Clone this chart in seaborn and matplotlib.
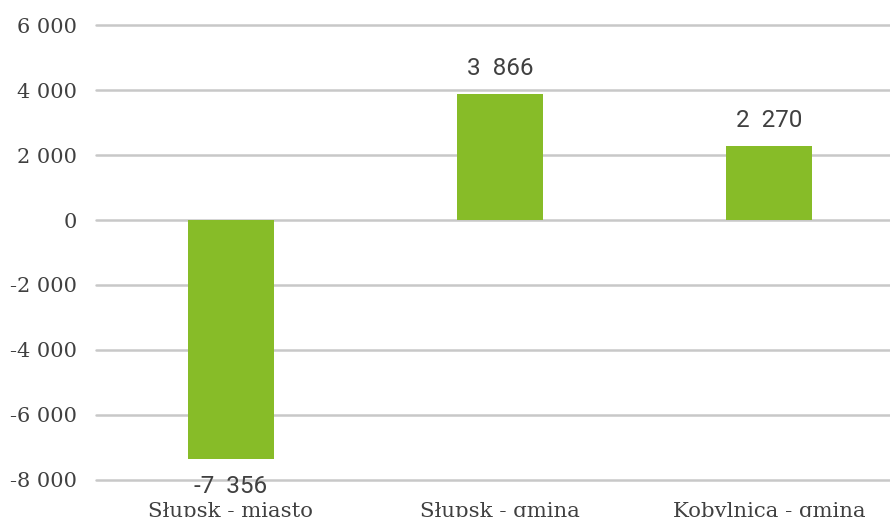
import matplotlib
matplotlib.use("Agg")
import matplotlib.pyplot as plt
import matplotlib.ticker as mticker
import seaborn as sns
import pandas as pd

# Population balance by municipality
categories = ["Słupsk - miasto", "Słupsk - gmina", "Kobylnica - gmina"]
values = [-7356, 3866, 2270]
y_ticks = [-8000, -6000, -4000, -2000, 0, 2000, 4000, 6000]

bar_color = "#87BC28"
text_color = "#404040"
grid_color = "#C8C8C8"

sns.set_theme(style="white")
plt.rcParams["font.family"] = ["DejaVu Serif", "DejaVu Sans"]

df = pd.DataFrame({"jednostka": categories, "saldo": values})

fig = plt.figure(figsize=(8.9, 5.17), dpi=100)
ax = fig.add_axes([0.1084, 0.0716, 0.9067, 0.88])

sns.barplot(data=df, x="jednostka", y="saldo", color=bar_color,
            saturation=1, width=0.323, linewidth=0, edgecolor="none",
            ax=ax, zorder=3)

ax.set_ylim(y_ticks[0], y_ticks[-1])
ax.set_yticks(y_ticks)
ax.yaxis.set_major_formatter(
    mticker.FuncFormatter(lambda v, p: f"{int(v):,}".replace(",", " ")))
ax.grid(axis="y", color=grid_color, linewidth=1.8, zorder=0)
ax.set_axisbelow(True)
for gl in ax.get_ygridlines():
    gl.set_clip_on(False)
for s in ax.spines.values():
    s.set_visible(False)
ax.set_xlabel("")
ax.set_ylabel("")
ax.tick_params(axis="y", length=0, pad=14, labelsize=15, labelcolor=text_color)
ax.tick_params(axis="x", length=0, pad=15.5, labelsize=15.3, labelcolor=text_color)

# Value labels above positive bars, below negative ones
for i, v in enumerate(values):
    label = f"{v:,}".replace(",", "  ")
    offset = 26 if v >= 0 else -27
    ax.annotate(label, xy=(i, v), xytext=(0, offset), textcoords="offset pixels",
                ha="center", va="center", fontsize=17.5, color=text_color,
                family="Roboto", annotation_clip=False)
ax.set_xlim(-0.5, 2.5)

fig.savefig("out.png", dpi=100)
